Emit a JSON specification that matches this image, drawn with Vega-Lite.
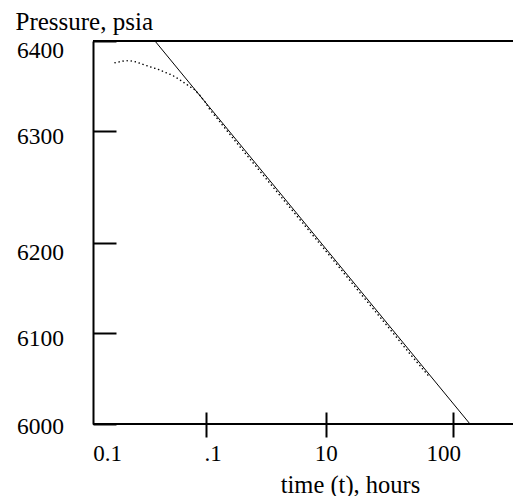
{
  "$schema": "https://vega.github.io/schema/vega-lite/v6.json",
  "width": 420,
  "height": 383,
  "autosize": {"type": "none"},
  "padding": {"left": 93, "top": 41, "right": 0, "bottom": 72},
  "background": "white",
  "config": {"view": {"stroke": null}, "font": "Liberation Serif"},
  "datasets": {
    "frame": [
      {"t": 0.07, "t2": 300, "p": 6400},
      {"t": 0.07, "t2": 300, "p": 6000}
    ],
    "fit": [
      {"t": 0.307, "p": 6400},
      {"t": 136, "p": 6000}
    ],
    "meas": [
      {"t": 0.1206, "p": 6375.9},
      {"t": 0.1355, "p": 6377.0},
      {"t": 0.1523, "p": 6378.1},
      {"t": 0.1712, "p": 6378.1},
      {"t": 0.1925, "p": 6377.0},
      {"t": 0.2163, "p": 6375.2},
      {"t": 0.2431, "p": 6373.3},
      {"t": 0.2733, "p": 6371.4},
      {"t": 0.3072, "p": 6369.7},
      {"t": 0.3452, "p": 6367.8},
      {"t": 0.388, "p": 6365.2},
      {"t": 0.4361, "p": 6363.0},
      {"t": 0.4902, "p": 6360.3},
      {"t": 0.551, "p": 6356.7},
      {"t": 0.6193, "p": 6353.0},
      {"t": 0.6961, "p": 6349.2},
      {"t": 0.7824, "p": 6345.6},
      {"t": 0.8794, "p": 6339.4},
      {"t": 0.9884, "p": 6332.4},
      {"t": 1.09, "p": 6323.6},
      {"t": 1.32, "p": 6310.0},
      {"t": 1.936, "p": 6285.8},
      {"t": 3.44, "p": 6253.2},
      {"t": 6.112, "p": 6220.8},
      {"t": 10.81, "p": 6185.5},
      {"t": 18.57, "p": 6144.6},
      {"t": 31.91, "p": 6104.2},
      {"t": 45.78, "p": 6077.0},
      {"t": 65.68, "p": 6051.0}
    ]
  },
  "encoding": {
    "x": {
      "field": "t",
      "type": "quantitative",
      "scale": {
        "type": "log",
        "domain": [0.07, 0.1, 1, 10, 100, 300],
        "range": [0, 14, 112.5, 232.7, 360.3, 420],
        "nice": false
      },
      "axis": {
        "values": [0.1, 1, 10, 100],
        "title": "time (t), hours",
        "orient": "bottom",
        "offset": -12,
        "domain": false,
        "grid": false,
        "tickSize": 25,
        "tickWidth": 2,
        "tickColor": "black",
        "tickOpacity": {"condition": {"test": "datum.value < 0.5", "value": 0}, "value": 1},
        "labelExpr": "datum.value < 0.5 ? '0.1' : datum.value < 5 ? '.1' : datum.value < 50 ? '10' : '100'",
        "labelFont": "Liberation Serif",
        "labelFontSize": 23,
        "labelColor": "black",
        "labelPadding": 5,
        "labelOffset": {"condition": [{"test": "datum.value > 0.5 && datum.value < 5", "value": 7}, {"test": "datum.value > 50", "value": -10}], "value": 0},
        "labelFlush": false,
        "labelOverlap": false,
        "labelBound": false,
        "titleFont": "Liberation Serif",
        "titleFontSize": 24.5,
        "titleFontWeight": "normal",
        "titleColor": "black",
        "titleX": 257,
        "titleY": 80,
        "titleAlign": "center",
        "titleBaseline": "alphabetic"
      }
    },
    "y": {
      "field": "p",
      "type": "quantitative",
      "scale": {
        "type": "linear",
        "domain": [6000, 6100, 6200, 6300, 6400],
        "range": [383, 292, 202, 90, 0],
        "nice": false,
        "zero": false
      },
      "axis": {
        "values": [6000, 6100, 6200, 6300, 6400],
        "format": "d",
        "title": "Pressure, psia",
        "domain": true,
        "domainColor": "black",
        "domainWidth": 2,
        "grid": false,
        "tickSize": -23,
        "tickWidth": 2,
        "tickColor": "black",
        "labelFont": "Liberation Serif",
        "labelFontSize": 23.5,
        "labelColor": "black",
        "labelPadding": 52.5,
        "labelOffset": {"condition": [{"test": "datum.value == 6400", "value": 9}, {"test": "datum.value == 6200", "value": 9}, {"test": "datum.value == 6000", "value": 2}], "value": 5.5},
        "labelFlush": false,
        "labelOverlap": false,
        "labelBound": false,
        "titleFont": "Liberation Serif",
        "titleFontSize": 25,
        "titleFontWeight": "normal",
        "titleColor": "black",
        "titleAngle": 0,
        "titleX": -78,
        "titleY": -12,
        "titleAlign": "left",
        "titleBaseline": "alphabetic"
      }
    }
  },
  "layer": [
    {
      "data": {"name": "frame"},
      "mark": {"type": "rule", "color": "black", "strokeWidth": 2},
      "encoding": {"x2": {"field": "t2"}}
    },
    {
      "data": {"name": "fit"},
      "mark": {"type": "line", "color": "black", "strokeWidth": 1},
      "encoding": {}
    },
    {
      "data": {"name": "meas"},
      "mark": {"type": "line", "color": "black", "strokeWidth": 1.5, "strokeCap": "round", "strokeDash": [0.1, 4]},
      "encoding": {}
    }
  ]
}
